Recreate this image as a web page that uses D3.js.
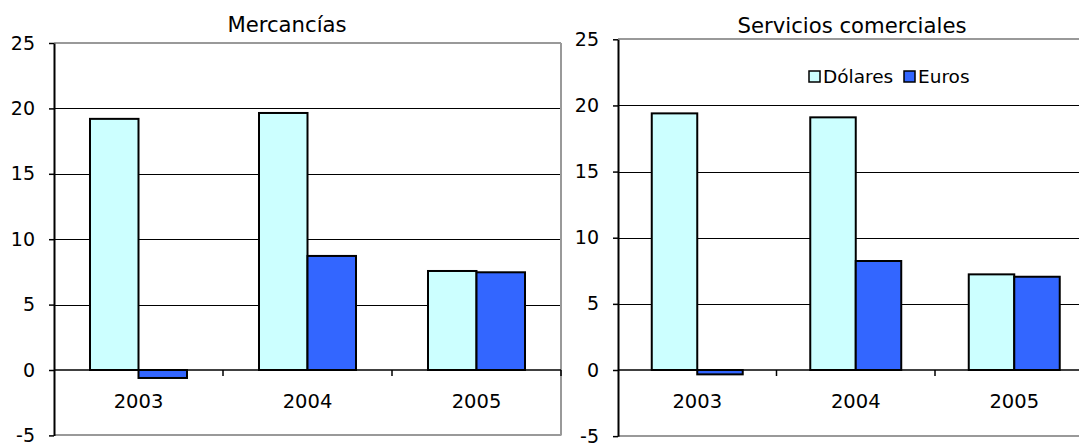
<!DOCTYPE html>
<html>
<head>
<meta charset="utf-8">
<script src="https://cdn.jsdelivr.net/npm/d3@7"></script>
<style>
  html, body { margin: 0; padding: 0; background: #fff; }
  svg { display: block; }
  text { font-family: "DejaVu Sans", Verdana, sans-serif; fill: #000; }
</style>
</head>
<body>
<svg id="chart" width="1079" height="444"></svg>
<script>
// ---- data ----
const categories = ["2003", "2004", "2005"];
const seriesNames = ["Dólares", "Euros"];
const mercanciasDolares = [19.2, 19.65, 7.57];
const mercanciasEuros = [-0.61, 8.72, 7.47];
const serviciosDolares = [19.4, 19.1, 7.23];
const serviciosEuros = [-0.33, 8.24, 7.05];
const yTicks = [-5, 0, 5, 10, 15, 20, 25];
const titles = ["Mercancías", "Servicios comerciales"];

const colors = { "Dólares": "#CCFFFF", "Euros": "#3366FF" };

const svg = d3.select("#chart");

const panels = [
  { title: titles[0], dol: mercanciasDolares, eur: mercanciasEuros,
    x0: 54, x1: 561, yTop: 43, yZero: 370, titleX: 287, titleY: 32, rightBorder: true },
  { title: titles[1], dol: serviciosDolares, eur: serviciosEuros,
    x0: 618, x1: 1093.5, yTop: 39.3, yZero: 370, titleX: 852, titleY: 33, rightBorder: false }
];

panels.forEach((p, pi) => {
  const g = svg.append("g");
  const unit = (p.yZero - p.yTop) / 25;
  const y = d3.scaleLinear().domain([-5, 25]).range([p.yZero + 5 * unit, p.yTop]);
  const x = d3.scaleBand().domain(categories).range([p.x0, p.x1])
    .paddingInner(0.426).paddingOuter(0.213);
  const xs = d3.scaleBand().domain(seriesNames).range([0, x.bandwidth()]);

  // gridlines
  g.selectAll("line.grid").data([5, 10, 15, 20]).enter().append("line")
    .attr("x1", p.x0).attr("x2", p.x1)
    .attr("y1", d => Math.round(y(d)) + 0.5).attr("y2", d => Math.round(y(d)) + 0.5)
    .attr("stroke", "#000").attr("stroke-width", 1);
  // border top / bottom / right (gray)
  [25, -5].forEach(v => {
    g.append("line").attr("x1", p.x0).attr("x2", p.x1)
      .attr("y1", Math.round(y(v))).attr("y2", Math.round(y(v)))
      .attr("stroke", "#999").attr("stroke-width", 2);
  });
  if (p.rightBorder) {
    g.append("line").attr("x1", p.x1).attr("x2", p.x1)
      .attr("y1", y(25)).attr("y2", y(-5))
      .attr("stroke", "#999").attr("stroke-width", 2);
  }

  // bars
  const rows = categories.map((c, i) => ({ cat: c, vals: [
    { s: "Dólares", v: p.dol[i] }, { s: "Euros", v: p.eur[i] } ] }));
  const grp = g.selectAll("g.cat").data(rows).enter().append("g")
    .attr("transform", d => `translate(${x(d.cat)},0)`);
  grp.selectAll("rect").data(d => d.vals).enter().append("rect")
    .attr("x", d => xs(d.s))
    .attr("width", xs.bandwidth())
    .attr("y", d => y(Math.max(0, d.v)))
    .attr("height", d => Math.abs(y(d.v) - y(0)))
    .attr("fill", d => colors[d.s])
    .attr("stroke", "#000").attr("stroke-width", 2);

  // zero line (category axis)
  g.append("line").attr("x1", p.x0).attr("x2", p.x1)
    .attr("y1", y(0)).attr("y2", y(0)).attr("stroke", "#000").attr("stroke-width", 1.5);
  // boundary tick marks
  const step = x.step();
  const bounds = d3.range(1, categories.length + 1).map(i => p.x0 + i * step);
  g.selectAll("line.btick").data(bounds).enter().append("line")
    .attr("x1", d => d).attr("x2", d => d)
    .attr("y1", y(0)).attr("y2", y(0) + 6)
    .attr("stroke", "#000").attr("stroke-width", 1.5);

  // category labels via axis
  const xAxis = g.append("g").attr("transform", `translate(0,${y(0)})`)
    .call(d3.axisBottom(x).tickSize(0).tickSizeOuter(0));
  xAxis.select(".domain").remove();
  xAxis.selectAll("text").attr("dy", null).attr("y", 38)
    .style("font-size", "19.5px").style("font-family", "'DejaVu Sans', Verdana, sans-serif").attr("fill", "#000");

  // y axis
  const yAxis = g.append("g").attr("transform", `translate(${p.x0},0)`)
    .call(d3.axisLeft(y).tickValues(yTicks).tickFormat(d => String(d))
      .tickSize(5).tickSizeOuter(0).tickPadding(14));
  yAxis.select(".domain").attr("stroke", "#000").attr("stroke-width", 2);
  yAxis.selectAll(".tick line").attr("stroke", "#000").attr("stroke-width", 1.5);
  yAxis.selectAll("text").style("font-size", "19px")
    .style("font-family", "'DejaVu Sans', Verdana, sans-serif").attr("fill", "#000");

  // title
  g.append("text").attr("x", p.titleX).attr("y", p.titleY)
    .attr("text-anchor", "middle").style("font-size", "21.2px").text(p.title);
});

// legend (in second panel)
const legend = svg.append("g").attr("transform", "translate(809,71)");
const legX = d3.scaleOrdinal().domain(seriesNames).range([0, 95]);
const li = legend.selectAll("g").data(seriesNames).enter().append("g")
  .attr("transform", d => `translate(${legX(d)},0)`);
li.append("rect").attr("width", 11).attr("height", 11)
  .attr("fill", d => colors[d]).attr("stroke", "#000").attr("stroke-width", 1.5);
li.append("text").attr("x", 14).attr("y", 12).style("font-size", "18.5px").text(d => d);
</script>
</body>
</html>
